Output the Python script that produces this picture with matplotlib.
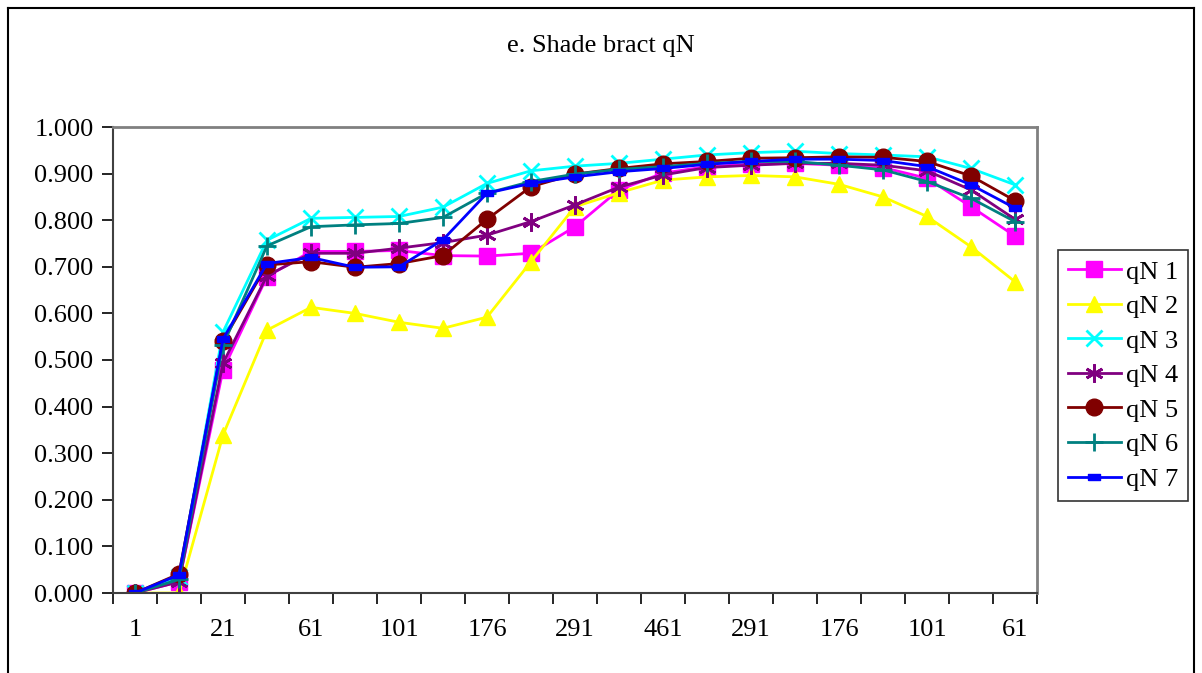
import numpy as np
import matplotlib
matplotlib.use("Agg")
import matplotlib.pyplot as plt
from matplotlib.lines import Line2D

plt.rcParams["font.family"] = ["Liberation Serif", "DejaVu Serif"]

# light levels along the induction/relaxation run
categories = ["1", "11", "21", "41", "61", "81", "101", "136", "176", "231", "291",
              "376", "461", "376", "291", "231", "176", "136", "101", "81", "61"]

qn1 = [0.000, 0.024, 0.479, 0.679, 0.733, 0.733, 0.735, 0.724, 0.723, 0.729, 0.786,
       0.865, 0.901, 0.915, 0.920, 0.922, 0.918, 0.913, 0.890, 0.829, 0.766]
qn2 = [0.000, 0.000, 0.339, 0.564, 0.613, 0.600, 0.581, 0.568, 0.592, 0.711, 0.829,
       0.859, 0.886, 0.893, 0.896, 0.893, 0.877, 0.850, 0.808, 0.743, 0.668]
qn3 = [0.000, 0.035, 0.560, 0.757, 0.804, 0.806, 0.808, 0.828, 0.879, 0.906, 0.916,
       0.922, 0.931, 0.940, 0.945, 0.948, 0.943, 0.940, 0.936, 0.911, 0.876]
qn4 = [0.000, 0.024, 0.493, 0.681, 0.729, 0.729, 0.740, 0.752, 0.768, 0.797, 0.833,
       0.871, 0.897, 0.913, 0.918, 0.922, 0.922, 0.918, 0.906, 0.865, 0.802]
qn5 = [0.000, 0.041, 0.541, 0.704, 0.711, 0.699, 0.707, 0.724, 0.802, 0.872, 0.899,
       0.911, 0.921, 0.926, 0.933, 0.934, 0.936, 0.935, 0.926, 0.895, 0.842]
qn6 = [0.000, 0.029, 0.532, 0.745, 0.786, 0.790, 0.793, 0.806, 0.858, 0.883, 0.899,
       0.909, 0.915, 0.922, 0.926, 0.926, 0.918, 0.908, 0.883, 0.847, 0.797]
qn7 = [0.000, 0.039, 0.545, 0.707, 0.720, 0.699, 0.700, 0.758, 0.858, 0.879, 0.893,
       0.904, 0.911, 0.920, 0.926, 0.931, 0.931, 0.928, 0.915, 0.876, 0.826]

series_names = ["qN 1", "qN 2", "qN 3", "qN 4", "qN 5", "qN 6", "qN 7"]
series = [qn1, qn2, qn3, qn4, qn5, qn6, qn7]

# Excel-style colours and markers
DASH = [(-1, -0.45), (1, -0.45), (1, 0.45), (-1, 0.45), (-1, -0.45)]
styles = [
    dict(color="#FF00FF", marker="s", ms=11),
    dict(color="#FFFF00", marker="^", ms=12),
    dict(color="#00FFFF", marker="x", ms=11, mew=2),
    dict(color="#800080", marker=(6, 2, 0), ms=13, mew=2),
    dict(color="#800000", marker="o", ms=12),
    dict(color="#008080", marker="+", ms=13, mew=2),
    dict(color="#0000FF", marker=DASH, ms=9),
]

FS = 19
W, H = 1202, 673
fig = plt.figure(figsize=(W / 100, H / 100), dpi=100)
ax = fig.add_axes([113 / W, 1 - 593 / H, (1037 - 113) / W, (593 - 127) / H])

x = np.arange(len(categories))
for name, vals, st in zip(series_names, series, styles):
    ax.plot(x, vals, lw=2, label=name, color=st["color"], marker=st["marker"],
            ms=st["ms"], mew=st.get("mew", 1), mfc=st["color"], mec=st["color"])

ax.set_xlim(-0.5, len(categories) - 0.5)
ax.set_ylim(0, 1.0)
yt = np.arange(0, 1.01, 0.1)
ax.set_yticks(yt)
ax.set_yticklabels(["%.3f" % v for v in yt])

# tick marks on category boundaries, labels on every other category
ax.set_xticks(np.arange(-0.5, len(categories), 1.0))
ax.set_xticklabels([])
ax.set_xticks(x[::2], minor=True)
ax.set_xticklabels(categories[::2], minor=True)
ax.tick_params(axis="x", which="major", length=8, width=1.2, direction="out")
ax.tick_params(axis="x", which="minor", length=0, pad=19, labelsize=FS)
ax.tick_params(axis="y", length=8, width=1.2, direction="out", pad=6, labelsize=FS)

for side in ("top", "right"):
    ax.spines[side].set_color("#808080")
    ax.spines[side].set_linewidth(2)
for side in ("left", "bottom"):
    ax.spines[side].set_color("#404040")
    ax.spines[side].set_linewidth(1.5)

fig.text(0.5, 1 - 46 / H, "e. Shade bract qN", ha="center", va="center", fontsize=FS)

leg = fig.legend(loc="upper left", bbox_to_anchor=(1058 / W, 1 - 250 / H),
                 fontsize=FS, frameon=True, fancybox=False, edgecolor="black",
                 handlelength=2.0, handletextpad=0.2, labelspacing=0.42,
                 borderpad=0.38, borderaxespad=0)
leg.get_frame().set_linewidth(1.2)

# chart border (bottom edge falls outside the image)
fig.add_artist(Line2D([8 / W, 8 / W], [-0.01, 1 - 8 / H], color="black", lw=1.5))
fig.add_artist(Line2D([8 / W, 1194 / W], [1 - 8 / H, 1 - 8 / H], color="black", lw=1.5))
fig.add_artist(Line2D([1194 / W, 1194 / W], [-0.01, 1 - 8 / H], color="black", lw=1.5))

fig.savefig("out.png", dpi=100)
